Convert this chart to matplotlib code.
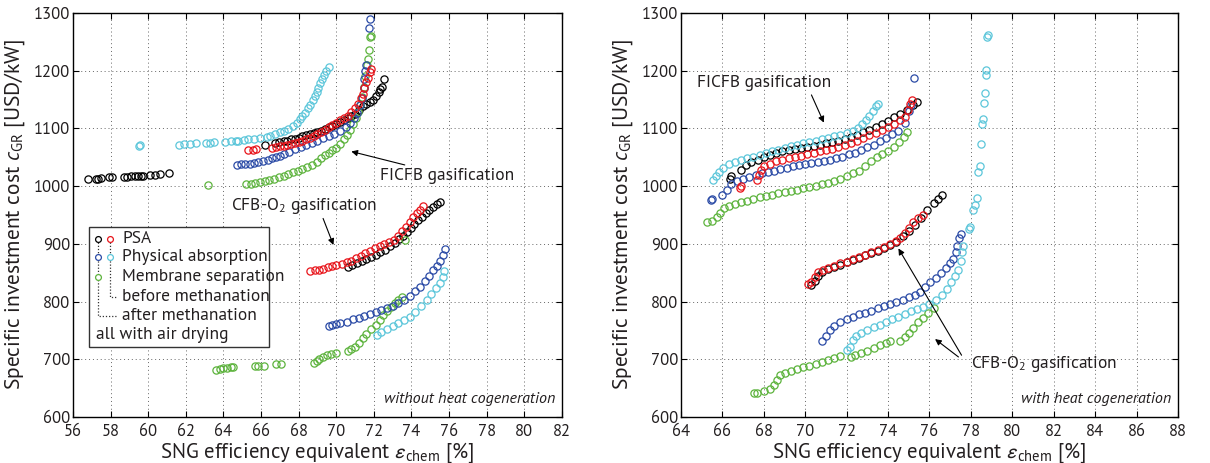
import matplotlib
matplotlib.use("Agg")
import matplotlib.pyplot as plt
from matplotlib.patches import Rectangle

FONT = ['PT Sans', 'Open Sans', 'DejaVu Sans']
plt.rcParams['font.family'] = FONT
plt.rcParams['mathtext.fontset'] = 'custom'
plt.rcParams['mathtext.rm'] = 'PT Sans'
plt.rcParams['mathtext.it'] = 'PT Sans:italic'
plt.rcParams['mathtext.bf'] = 'PT Sans:bold'
plt.rcParams['mathtext.fallback'] = 'stixsans'

# colours of the five process variants
C_PSA_AFTER = '#000000'
C_PSA_BEFORE = '#e8151b'
C_ABS_AFTER = '#2b4ba6'
C_ABS_BEFORE = '#5cc6da'
C_MEM_AFTER = '#5db33d'

# ---------------- without heat cogeneration ----------------
# FICFB gasification
noc_ficfb_psa_after = [
    (56.8, 1012), (57.2, 1013), (57.35, 1013), (57.5, 1014), (57.9, 1015), (58.1, 1015),
    (58.7, 1016), (58.85, 1016), (59.1, 1017), (59.3, 1017), (59.45, 1017), (59.6, 1018),
    (59.75, 1018), (60.1, 1019), (60.35, 1020), (60.65, 1021), (61.1, 1022),
    (66.2, 1072), (66.75, 1074), (66.95, 1076), (67.2, 1078), (67.4, 1079), (67.6, 1081),
    (67.8, 1082), (68.0, 1084), (68.2, 1086), (68.4, 1088), (68.6, 1090), (68.8, 1092),
    (69.0, 1094), (69.2, 1096), (69.4, 1099), (69.6, 1102), (69.8, 1105), (70.0, 1108),
    (70.2, 1111), (70.4, 1114), (70.6, 1118), (70.8, 1121), (71.0, 1125), (71.2, 1132),
    (71.4, 1138), (71.6, 1142), (71.8, 1146), (71.95, 1150), (72.1, 1156), (72.25, 1163),
    (72.35, 1168), (72.45, 1172), (72.55, 1186),
]
noc_ficfb_psa_before = [
    (65.3, 1062), (65.55, 1063), (65.75, 1064), (66.6, 1066), (66.8, 1067), (67.0, 1069),
    (67.2, 1070), (67.4, 1072), (67.6, 1073), (67.8, 1075), (68.0, 1077), (68.2, 1079),
    (68.4, 1081), (68.6, 1084), (68.8, 1087), (69.0, 1090), (69.2, 1094), (69.4, 1098),
    (69.6, 1102), (69.8, 1106), (70.0, 1110), (70.2, 1114), (70.4, 1118), (70.6, 1122),
    (70.8, 1128), (71.0, 1136), (71.15, 1143), (71.3, 1152), (71.4, 1160), (71.5, 1170),
    (71.6, 1180), (71.7, 1188), (71.8, 1197), (71.85, 1203),
]
noc_ficfb_abs_after = [
    (64.7, 1037), (64.95, 1038), (65.15, 1038), (65.4, 1039), (65.6, 1040), (65.85, 1042),
    (66.1, 1043), (66.35, 1046), (66.6, 1048), (66.8, 1050), (67.0, 1052), (67.2, 1055),
    (67.5, 1059), (67.8, 1064), (68.1, 1068), (68.4, 1071), (68.7, 1075), (69.0, 1079),
    (69.3, 1083), (69.6, 1087), (69.9, 1091), (70.2, 1096), (70.5, 1103), (70.75, 1110),
    (70.95, 1118), (71.1, 1127), (71.25, 1140), (71.35, 1152), (71.45, 1170), (71.5, 1185),
    (71.55, 1200), (71.6, 1210), (71.75, 1274), (71.8, 1289),
]
noc_ficfb_abs_before = [
    (59.5, 1070), (59.55, 1071), (61.65, 1072), (61.9, 1073), (62.2, 1073), (62.55, 1074),
    (63.1, 1075), (63.3, 1075), (63.5, 1076), (64.1, 1077), (64.4, 1078), (64.65, 1079),
    (64.8, 1079), (65.1, 1080), (65.3, 1081), (65.6, 1082), (65.95, 1083), (66.3, 1085),
    (66.5, 1087), (66.75, 1090), (67.0, 1093), (67.2, 1096), (67.45, 1099), (67.7, 1104),
    (67.9, 1110), (68.05, 1116), (68.2, 1121), (68.35, 1127), (68.5, 1135), (68.6, 1141),
    (68.75, 1149), (68.85, 1156), (68.95, 1163), (69.05, 1170), (69.15, 1178), (69.25, 1186),
    (69.35, 1193), (69.45, 1200), (69.6, 1207),
]
noc_ficfb_mem_after = [
    (63.2, 1002), (65.2, 1003), (65.45, 1004), (65.7, 1005), (65.95, 1007), (66.2, 1008),
    (66.45, 1010), (66.7, 1012), (66.95, 1015), (67.2, 1018), (67.45, 1021), (67.7, 1024),
    (67.95, 1027), (68.2, 1030), (68.45, 1033), (68.7, 1036), (68.95, 1041), (69.2, 1048),
    (69.4, 1054), (69.6, 1057), (69.8, 1062), (70.0, 1066), (70.2, 1073), (70.4, 1081),
    (70.55, 1089), (70.75, 1098), (70.9, 1108), (71.05, 1118), (71.15, 1128), (71.25, 1140),
    (71.35, 1155), (71.45, 1172), (71.55, 1190), (71.65, 1210), (71.7, 1220), (71.75, 1235),
    (71.8, 1258), (71.85, 1260),
]
# CFB-O2 gasification
noc_cfb_psa_after = [
    (70.6, 860), (70.85, 864), (71.1, 867), (71.35, 870), (71.6, 873), (71.85, 877),
    (72.1, 881), (72.35, 885), (72.6, 890), (72.85, 896), (73.1, 902), (73.35, 908),
    (73.55, 913), (73.75, 920), (73.95, 927), (74.15, 934), (74.35, 941), (74.55, 947),
    (74.75, 953), (74.95, 959), (75.15, 964), (75.35, 969), (75.5, 973),
]
noc_cfb_psa_before = [
    (68.6, 853), (68.85, 854), (69.1, 855), (69.3, 857), (69.55, 859), (69.75, 861),
    (70.0, 863), (70.3, 865), (70.55, 868), (70.8, 871), (71.05, 875), (71.3, 879),
    (71.55, 884), (71.8, 888), (72.05, 892), (72.3, 896), (72.55, 900), (72.8, 904),
    (73.05, 907), (73.3, 914), (73.5, 922), (73.7, 930), (73.9, 938), (74.1, 946),
    (74.3, 953), (74.45, 959), (74.6, 965),
]
noc_cfb_abs_after = [
    (69.6, 758), (69.8, 759), (70.0, 761), (70.2, 763), (70.55, 765), (70.9, 769),
    (71.2, 772), (71.5, 775), (71.8, 778), (72.1, 782), (72.4, 786), (72.7, 789),
    (73.0, 792), (73.3, 797), (73.6, 803), (73.9, 810), (74.2, 818), (74.45, 826),
    (74.7, 835), (74.95, 845), (75.15, 854), (75.35, 862), (75.5, 870), (75.65, 880),
    (75.8, 891),
]
noc_cfb_abs_before = [
    (72.15, 742), (72.4, 747), (72.7, 752), (73.0, 757), (73.3, 763), (73.6, 768),
    (73.9, 774), (74.2, 782), (74.5, 792), (74.8, 803), (75.05, 813), (75.3, 823),
    (75.5, 832), (75.65, 843), (75.75, 853),
]
noc_cfb_mem_after = [
    (63.6, 682), (63.8, 683), (64.0, 684), (64.2, 685), (64.4, 686), (64.5, 687),
    (65.7, 688), (65.85, 688), (66.15, 689), (66.8, 691), (67.05, 692), (68.8, 693),
    (68.95, 697), (69.1, 700), (69.3, 704), (69.5, 707), (69.7, 709), (70.0, 711),
    (70.6, 714), (70.8, 717), (71.0, 722), (71.2, 729), (71.4, 737), (71.6, 744),
    (71.85, 752), (72.1, 760), (72.3, 768), (72.5, 776), (72.7, 783), (72.9, 791),
    (73.1, 797), (73.3, 802), (73.5, 808), (73.65, 906),
]

# ---------------- with heat cogeneration ----------------
cog_ficfb_psa_after = [
    (66.35, 1012), (66.4, 1018), (66.9, 1028), (67.15, 1036), (67.4, 1041), (67.7, 1046),
    (68.0, 1050), (68.3, 1054), (68.6, 1057), (68.9, 1060), (69.2, 1062), (69.5, 1064),
    (69.8, 1066), (70.1, 1068), (70.4, 1070), (70.7, 1072), (71.0, 1074), (71.3, 1076),
    (71.6, 1078), (71.9, 1081), (72.2, 1085), (72.5, 1089), (72.8, 1093), (73.1, 1098),
    (73.4, 1103), (73.7, 1108), (74.0, 1113), (74.3, 1119), (74.6, 1125), (74.9, 1132),
    (75.2, 1140), (75.4, 1146),
]
cog_ficfb_psa_before = [
    (66.85, 997), (66.9, 1001), (67.65, 1010), (67.75, 1020), (67.85, 1028), (68.0, 1034),
    (68.3, 1039), (68.6, 1043), (68.9, 1046), (69.2, 1049), (69.5, 1051), (69.8, 1053),
    (70.1, 1055), (70.4, 1057), (70.7, 1060), (71.0, 1062), (71.3, 1065), (71.6, 1068),
    (71.9, 1071), (72.2, 1075), (72.5, 1079), (72.8, 1084), (73.1, 1088), (73.4, 1092),
    (73.7, 1097), (74.0, 1102), (74.3, 1107), (74.6, 1114), (74.8, 1120), (74.95, 1132),
    (75.05, 1142), (75.15, 1150),
]
cog_ficfb_abs_after = [
    (65.45, 976), (65.5, 978), (66.0, 985), (66.2, 993), (66.4, 1003), (66.7, 1008),
    (67.0, 1012), (67.3, 1015), (67.6, 1019), (67.9, 1022), (68.2, 1024), (68.5, 1026),
    (68.8, 1029), (69.1, 1031), (69.4, 1034), (69.7, 1036), (70.0, 1038), (70.3, 1040),
    (70.6, 1042), (70.9, 1043), (71.2, 1045), (71.5, 1048), (71.8, 1051), (72.1, 1055),
    (72.4, 1058), (72.7, 1062), (73.0, 1067), (73.3, 1072), (73.6, 1078), (73.9, 1084),
    (74.2, 1090), (74.5, 1095), (74.8, 1110), (75.0, 1130), (75.1, 1140), (75.25, 1188),
]
cog_ficfb_abs_before = [
    (65.55, 1010), (65.7, 1018), (65.85, 1025), (66.05, 1032), (66.3, 1038), (66.6, 1042),
    (66.9, 1045), (67.2, 1048), (67.5, 1051), (67.8, 1054), (68.1, 1057), (68.4, 1060),
    (68.7, 1063), (69.0, 1066), (69.3, 1069), (69.6, 1072), (69.9, 1075), (70.2, 1077),
    (70.5, 1079), (70.8, 1081), (71.1, 1083), (71.4, 1086), (71.7, 1089), (72.0, 1092),
    (72.3, 1095), (72.55, 1100), (72.75, 1107), (72.95, 1115), (73.1, 1122), (73.25, 1130),
    (73.4, 1138), (73.5, 1143),
]
cog_ficfb_mem_after = [
    (65.25, 937), (65.5, 940), (65.75, 947), (65.9, 954), (66.1, 962), (66.3, 966),
    (66.6, 969), (66.9, 972), (67.2, 975), (67.5, 978), (67.8, 981), (68.1, 983),
    (68.4, 985), (68.7, 988), (69.0, 990), (69.3, 992), (69.6, 994), (69.9, 996),
    (70.2, 998), (70.5, 1001), (70.8, 1003), (71.1, 1006), (71.4, 1009), (71.7, 1013),
    (72.0, 1017), (72.3, 1022), (72.6, 1027), (72.9, 1034), (73.2, 1043), (73.45, 1051),
    (73.7, 1055), (74.0, 1060), (74.3, 1068), (74.55, 1076), (74.75, 1085), (74.9, 1093),
]
cog_cfb_psa_after = [
    (70.3, 829), (70.45, 836), (70.6, 845), (70.8, 852), (71.1, 856), (71.4, 860),
    (71.7, 864), (72.0, 868), (72.3, 872), (72.6, 876), (72.9, 880), (73.2, 884),
    (73.5, 888), (73.8, 893), (74.1, 898), (74.4, 904), (74.7, 913), (75.0, 922),
    (75.3, 933), (75.6, 945), (75.9, 958), (76.2, 970), (76.4, 978), (76.6, 985),
]
cog_cfb_psa_before = [
    (70.15, 830), (70.3, 833), (70.45, 843), (70.6, 851), (70.85, 855), (71.1, 858),
    (71.4, 862), (71.7, 866), (72.0, 869), (72.3, 873), (72.6, 877), (72.9, 881),
    (73.2, 885), (73.5, 889), (73.8, 894), (74.1, 899), (74.4, 905), (74.6, 910),
    (74.8, 918), (75.0, 927), (75.2, 937), (75.45, 944), (75.7, 950),
]
cog_cfb_abs_after = [
    (70.8, 732), (71.0, 740), (71.2, 750), (71.4, 758), (71.7, 764), (72.0, 769),
    (72.3, 774), (72.6, 778), (72.9, 781), (73.2, 784), (73.5, 789), (73.8, 793),
    (74.1, 796), (74.4, 799), (74.7, 803), (75.0, 808), (75.3, 812), (75.55, 817),
    (75.8, 825), (76.05, 833), (76.3, 841), (76.55, 850), (76.8, 858), (77.0, 866),
    (77.15, 873), (77.3, 885), (77.35, 897), (77.45, 910), (77.5, 917),
]
cog_cfb_abs_before = [
    (72.0, 716), (72.15, 722), (72.3, 733), (72.45, 741), (72.7, 746), (73.0, 751),
    (73.3, 756), (73.6, 760), (73.9, 765), (74.2, 770), (74.5, 774), (74.8, 779),
    (75.1, 783), (75.4, 787), (75.7, 791), (76.0, 796), (76.3, 803), (76.6, 812),
    (76.85, 822), (77.05, 833), (77.25, 845), (77.4, 855), (77.5, 870), (77.55, 886),
    (77.6, 896), (77.9, 925), (77.95, 929), (78.1, 958), (78.2, 967), (78.3, 979),
    (78.35, 1025), (78.45, 1034), (78.5, 1073), (78.55, 1108), (78.6, 1116), (78.65, 1144),
    (78.7, 1162), (78.72, 1193), (78.75, 1201), (78.8, 1258), (78.82, 1262),
]
cog_cfb_mem_after = [
    (67.55, 641), (67.65, 642), (68.0, 645), (68.3, 648), (68.5, 656), (68.65, 664),
    (68.8, 672), (69.0, 676), (69.3, 680), (69.6, 683), (69.9, 686), (70.2, 689),
    (70.5, 692), (70.8, 695), (71.1, 699), (71.4, 703), (71.7, 706), (72.2, 704),
    (72.4, 708), (72.7, 711), (73.0, 715), (73.3, 720), (73.6, 724), (73.9, 728),
    (74.1, 732), (74.6, 732), (74.8, 738), (75.0, 746), (75.2, 754), (75.45, 764),
    (75.7, 772), (75.95, 780), (76.2, 788),
]

x_ticks_left = list(range(56, 83, 2))
x_ticks_right = list(range(64, 89, 2))
y_ticks = list(range(600, 1301, 100))

XLABEL = r'SNG efficiency equivalent $\varepsilon_{\mathrm{chem}}$ [%]'
YLABEL = r'Specific investment cost $c_{\mathrm{GR}}$ [USD/kW]'
TXT = '#231f20'


def scatter(ax, pts, color):
    xs = [p[0] for p in pts]
    ys = [p[1] for p in pts]
    ax.plot(xs, ys, 'o', ls='none', ms=5.2, mfc='none', mec=color, mew=0.9)


def setup(ax, xticks, note):
    ax.set_xlim(xticks[0], xticks[-1])
    ax.set_ylim(600, 1300)
    ax.set_xticks(xticks)
    ax.set_yticks(y_ticks)
    ax.grid(True, ls=(0, (1, 3)), color='#666666', lw=0.7)
    ax.tick_params(direction='in', length=4, width=0.8, top=True, right=True,
                   labelsize=12, labelcolor=TXT)
    ax.tick_params(axis='x', pad=5)
    ax.tick_params(axis='y', pad=2)
    for s in ax.spines.values():
        s.set_linewidth(1.0)
    ax.set_xlabel(XLABEL, fontsize=15, labelpad=0, color=TXT)
    ax.set_ylabel(YLABEL, fontsize=15.5, labelpad=5, color=TXT)
    ax.text(0.987, 0.028, note, transform=ax.transAxes, ha='right', va='bottom',
            fontsize=11.5, style='italic', color=TXT)


arrow = dict(arrowstyle='-|>', color='black', lw=0.8, mutation_scale=9,
             shrinkA=0, shrinkB=0)

fig = plt.figure(figsize=(12.1, 4.63), dpi=100)
ax1 = fig.add_axes([0.0603, 0.0994, 0.4041, 0.8726])
ax2 = fig.add_axes([0.5628, 0.0994, 0.4107, 0.8726])

# left panel
for pts, c in [(noc_ficfb_psa_after, C_PSA_AFTER), (noc_cfb_psa_after, C_PSA_AFTER),
               (noc_ficfb_mem_after, C_MEM_AFTER), (noc_cfb_mem_after, C_MEM_AFTER),
               (noc_ficfb_abs_after, C_ABS_AFTER), (noc_cfb_abs_after, C_ABS_AFTER),
               (noc_ficfb_abs_before, C_ABS_BEFORE), (noc_cfb_abs_before, C_ABS_BEFORE),
               (noc_ficfb_psa_before, C_PSA_BEFORE), (noc_cfb_psa_before, C_PSA_BEFORE)]:
    scatter(ax1, pts, c)
setup(ax1, x_ticks_left, 'without heat cogeneration')
ax1.annotate('FICFB gasification', xy=(70.8, 1060), xytext=(72.35, 1018),
             fontsize=12.5, color=TXT, ha='left', va='center', arrowprops=arrow)
ax1.annotate('CFB-O$_2$ gasification', xy=(69.85, 898), xytext=(64.4, 966),
             fontsize=12.5, color=TXT, ha='left', va='center')
ax1.annotate('', xy=(69.85, 898), xytext=(69.3, 944), arrowprops=arrow)

# hand-built legend box in the left panel
ax1.add_patch(Rectangle((0.033, 0.173), 0.368, 0.296, transform=ax1.transAxes,
                        fill=True, fc='white', ec='#333333', lw=1.0, zorder=5))
rows = [0.4406, 0.3953, 0.3473, 0.2978, 0.2508, 0.203]
col1, col2, txt_x = 0.0518, 0.0757, 0.1009
dots = dict(ls=(0, (1, 1.5)), color='#333333', lw=0.9, transform=ax1.transAxes, zorder=6)
ax1.plot([col1, col1, 0.089], [rows[0], rows[4], rows[4]], **dots)
ax1.plot([col2, col2, 0.089], [rows[0], rows[3], rows[3]], **dots)
mk = dict(marker='o', ls='none', ms=4.2, mfc='white', mew=0.9,
          transform=ax1.transAxes, zorder=7)
ax1.plot([col1], [rows[0]], mec=C_PSA_AFTER, **mk)
ax1.plot([col2], [rows[0]], mec=C_PSA_BEFORE, **mk)
ax1.plot([col1], [rows[1]], mec=C_ABS_AFTER, **mk)
ax1.plot([col2], [rows[1]], mec=C_ABS_BEFORE, **mk)
ax1.plot([col1], [rows[2]], mec=C_MEM_AFTER, **mk)
for y, s in zip(rows[:5], ['PSA', 'Physical absorption', 'Membrane separation',
                           'before methanation', 'after methanation']):
    ax1.text(txt_x, y, s, transform=ax1.transAxes, fontsize=12.5, va='center',
             color=TXT, zorder=7)
ax1.text(0.048, rows[5], 'all with air drying', transform=ax1.transAxes, fontsize=12.5,
         va='center', color=TXT, zorder=7)

# right panel
for pts, c in [(cog_ficfb_psa_after, C_PSA_AFTER), (cog_cfb_psa_after, C_PSA_AFTER),
               (cog_ficfb_mem_after, C_MEM_AFTER), (cog_cfb_mem_after, C_MEM_AFTER),
               (cog_ficfb_abs_after, C_ABS_AFTER), (cog_cfb_abs_after, C_ABS_AFTER),
               (cog_ficfb_abs_before, C_ABS_BEFORE), (cog_cfb_abs_before, C_ABS_BEFORE),
               (cog_ficfb_psa_before, C_PSA_BEFORE), (cog_cfb_psa_before, C_PSA_BEFORE)]:
    scatter(ax2, pts, c)
setup(ax2, x_ticks_right, 'with heat cogeneration')
ax2.annotate('FICFB gasification', xy=(70.9, 1110), xytext=(64.75, 1179),
             fontsize=12.5, color=TXT, ha='left', va='center')
ax2.annotate('', xy=(70.9, 1110), xytext=(70.3, 1158), arrowprops=arrow)
ax2.annotate('CFB-O$_2$ gasification', xy=(74.5, 892), xytext=(78.0, 692),
             fontsize=12.5, color=TXT, ha='left', va='center')
ax2.annotate('', xy=(74.5, 892), xytext=(77.55, 707), arrowprops=arrow)
ax2.annotate('', xy=(76.27, 735), xytext=(77.4, 704), arrowprops=arrow)

fig.savefig('out.png', dpi=100)
